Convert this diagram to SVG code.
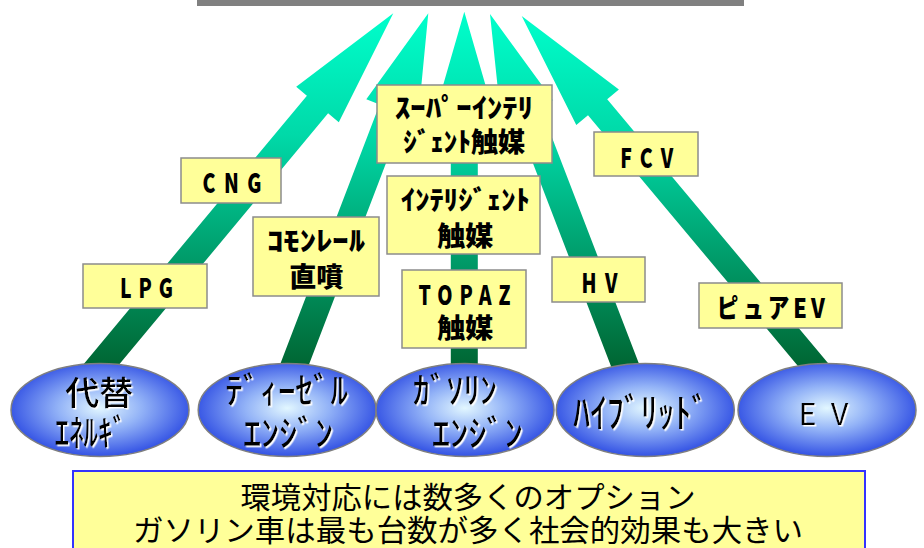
<svg xmlns="http://www.w3.org/2000/svg" width="924" height="548" viewBox="0 0 924 548">
<style>
.arrow{fill:url(#ag);stroke:none}
.box{fill:#FFFF99;stroke:#8C8C8C;stroke-width:1.5}
.bt{font-family:"Noto Sans CJK JP","Noto Sans",sans-serif;font-weight:900;font-size:27px;fill:#000;text-anchor:middle}
.ell{fill:url(#eg);stroke:#7F7F7F;stroke-width:1.5}
.et{font-family:"Noto Sans CJK JP","Noto Sans",sans-serif;font-weight:500;font-size:36px;fill:#000;text-anchor:middle;filter:url(#ws)}
.mt{font-family:"Noto Sans CJK JP","Noto Sans",sans-serif;font-weight:400;font-size:30px;fill:#000;text-anchor:middle}
</style>
<defs>
<linearGradient id="ag" gradientUnits="userSpaceOnUse" x1="0" y1="12" x2="0" y2="365">
<stop offset="0" stop-color="#00FFCC"/>
<stop offset="0.35" stop-color="#00D9A8"/>
<stop offset="1" stop-color="#006633"/>
</linearGradient>
<radialGradient id="eg" cx="50%" cy="48%" r="52%">
<stop offset="0" stop-color="#E2F7FF"/>
<stop offset="0.45" stop-color="#93B3F7"/>
<stop offset="1" stop-color="#3352E4"/>
</radialGradient>
<filter id="ws" x="-10%" y="-10%" width="130%" height="130%">
<feDropShadow dx="1.5" dy="1.5" stdDeviation="0" flood-color="#FFFFFF" flood-opacity="1"/>
</filter>
</defs>
<rect x="197" y="0" width="547" height="6" fill="#808080"/>
<g id="connectors">
<polygon class="arrow" points="66.3,385 306.9,95.7 296.2,86.8 393.3,13.3 338.8,122.2 328.1,113.3 87.5,402.6"/>
<polygon class="arrow" points="268.2,395.6 379.6,104.4 366.3,99.3 428.3,13.3 418.1,119.1 404.8,114 293.4,405.2"/>
<polygon class="arrow" points="450.8,400 450.8,107 436.8,107 464.3,11.7 491.8,107 477.8,107 477.8,400"/>
<polygon class="arrow" points="651.2,395.5 539.6,105.3 552.9,100.2 490,14 501.1,120 514.4,115 626,405.2"/>
<polygon class="arrow" points="847,385.7 607.2,99.3 618.9,89.5 521.7,16 576.3,125.1 588,115.3 827.8,401.7"/>
</g>
<g id="box-cng"><rect class="box" x="181" y="158" width="100" height="45"/><text class="bt" transform="translate(232,193) scale(0.72,1)" x="0" y="0" textLength="82" lengthAdjust="spacing">CNG</text></g>
<g id="box-lpg"><rect class="box" x="83" y="264" width="124" height="44"/><text class="bt" transform="translate(146.5,298) scale(0.72,1)" x="0" y="0" textLength="73.6" lengthAdjust="spacing">LPG</text></g>
<g id="box-common-rail"><rect class="box" x="253" y="217" width="126" height="79"/><text class="bt"><tspan x="316" y="251" textLength="98" lengthAdjust="spacingAndGlyphs">ｺﾓﾝﾚｰﾙ</tspan><tspan x="316.3" y="287" textLength="54" lengthAdjust="spacingAndGlyphs">直噴</tspan></text></g>
<g id="box-super"><rect class="box" x="377" y="85" width="175" height="78"/><text class="bt"><tspan x="464" y="118" textLength="138" lengthAdjust="spacingAndGlyphs">ｽｰﾊﾟｰｲﾝﾃﾘ</tspan><tspan x="464.2" y="152" textLength="122" lengthAdjust="spacingAndGlyphs">ｼﾞｪﾝﾄ触媒</tspan></text></g>
<g id="box-intelligent"><rect class="box" x="387" y="176" width="153" height="78"/><text class="bt"><tspan x="465.3" y="210" textLength="129" lengthAdjust="spacingAndGlyphs">ｲﾝﾃﾘｼﾞｪﾝﾄ</tspan><tspan x="465.3" y="245.5" textLength="56" lengthAdjust="spacingAndGlyphs">触媒</tspan></text></g>
<g id="box-topaz"><rect class="box" x="402" y="270" width="124" height="78"/><text class="bt" transform="translate(464.5,0) scale(0.72,1)"><tspan x="0" y="305" textLength="127.8" lengthAdjust="spacing">TOPAZ</tspan><tspan x="1.1" y="338" textLength="77.8" lengthAdjust="spacingAndGlyphs">触媒</tspan></text></g>
<g id="box-hv"><rect class="box" x="552" y="257" width="93" height="45"/><text class="bt" transform="translate(599.5,293) scale(0.72,1)" x="0" y="0" textLength="50" lengthAdjust="spacing">HV</text></g>
<g id="box-fcv"><rect class="box" x="594" y="132" width="104" height="44"/><text class="bt" transform="translate(646.7,168) scale(0.72,1)" x="0" y="0" textLength="73.6" lengthAdjust="spacing">FCV</text></g>
<g id="box-pure-ev"><rect class="box" x="699" y="283" width="143" height="45"/><text class="bt" transform="translate(770.8,318) scale(0.8,1)" x="0" y="0" textLength="135" lengthAdjust="spacing">ピュアEV</text></g>
<g id="node-alt"><ellipse class="ell" cx="100" cy="410" rx="89" ry="46.5"/><text class="et"><tspan x="99.2" y="404.5" style="font-size:33px" textLength="68" lengthAdjust="spacingAndGlyphs">代替</tspan><tspan x="90.8" y="446" textLength="72" lengthAdjust="spacingAndGlyphs">ｴﾈﾙｷﾞ</tspan></text></g>
<g id="node-diesel"><ellipse class="ell" cx="287.2" cy="410" rx="89" ry="46.5"/><text class="et"><tspan x="286.7" y="404" textLength="123" lengthAdjust="spacingAndGlyphs">ﾃﾞｨｰｾﾞﾙ</tspan><tspan x="288.3" y="447" textLength="90" lengthAdjust="spacingAndGlyphs">ｴﾝｼﾞﾝ</tspan></text></g>
<g id="node-gasoline"><ellipse class="ell" cx="465" cy="410" rx="89" ry="46.5"/><text class="et"><tspan x="455" y="404" textLength="84" lengthAdjust="spacingAndGlyphs">ｶﾞｿﾘﾝ</tspan><tspan x="477.5" y="447" textLength="91" lengthAdjust="spacingAndGlyphs">ｴﾝｼﾞﾝ</tspan></text></g>
<g id="node-hybrid"><ellipse class="ell" cx="645.3" cy="410" rx="89" ry="46.5"/><text class="et" x="640.8" y="427" style="font-size:40px" textLength="135" lengthAdjust="spacingAndGlyphs">ﾊｲﾌﾞﾘｯﾄﾞ</text></g>
<g id="node-ev"><ellipse class="ell" cx="827" cy="410" rx="89" ry="46.5"/><text class="et" x="807.5 839.5" y="425" style="font-size:30px;font-weight:400">EV</text></g>
<g id="summary"><rect x="73" y="471" width="792" height="90" fill="#FFFF99" stroke="#3333FF" stroke-width="2"/><text class="mt"><tspan x="468" y="508" textLength="455" lengthAdjust="spacingAndGlyphs">環境対応には数多くのオプション</tspan><tspan x="468" y="541" textLength="670" lengthAdjust="spacingAndGlyphs">ガソリン車は最も台数が多く社会的効果も大きい</tspan></text></g>
</svg>
